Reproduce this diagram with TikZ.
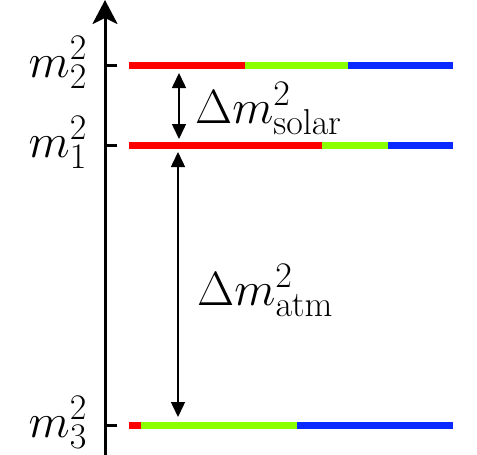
\documentclass[tikz,border=0pt]{standalone}
\usepackage{fix-cm}
\DeclareMathSizes{48}{48}{36}{26}
\usetikzlibrary{arrows.meta}
\definecolor{lred}{RGB}{255,0,0}
\definecolor{lgreen}{RGB}{140,255,0}
\definecolor{lblue}{RGB}{10,40,255}
\tikzset{
  level/.style={line width=7pt},
  tick/.style={line width=3pt},
  gap/.style={line width=1.5pt,{Triangle[width=14pt,length=15pt]}-{Triangle[width=14pt,length=15pt]}},
  lab/.style={inner sep=0pt,font=\fontsize{48}{56}\selectfont},
}
\begin{document}
\begin{tikzpicture}[x=1pt,y=-1pt]
\useasboundingbox (0,0) rectangle (477,455);
% axis
\coordinate (ax0) at (105,455);
\coordinate (ax1) at (105,0);
\draw[line width=3pt,-{Stealth[width=25pt,length=24pt,inset=6pt]}] (ax0) -- (ax1);
% levels
\coordinate (t2) at (105,65);  \coordinate (t2e) at (117,65);
\coordinate (t1) at (105,145); \coordinate (t1e) at (117,145);
\coordinate (t3) at (105,425); \coordinate (t3e) at (117,425);
\draw[tick] (t2) -- (t2e);
\draw[tick] (t1) -- (t1e);
\draw[tick] (t3) -- (t3e);
% m2 level
\coordinate (a2) at (129,65); \coordinate (b2) at (245,65); \coordinate (c2) at (348,65); \coordinate (d2) at (453,65);
\draw[level,lred] (a2) -- (b2);
\draw[level,lgreen] (b2) -- (c2);
\draw[level,lblue] (c2) -- (d2);
% m1 level
\coordinate (a1) at (129,145); \coordinate (b1) at (322,145); \coordinate (c1) at (388,145); \coordinate (d1) at (453,145);
\draw[level,lred] (a1) -- (b1);
\draw[level,lgreen] (b1) -- (c1);
\draw[level,lblue] (c1) -- (d1);
% m3 level
\coordinate (a3) at (129,425); \coordinate (b3) at (141,425); \coordinate (c3) at (297,425); \coordinate (d3) at (453,425);
\draw[level,lred] (a3) -- (b3);
\draw[level,lgreen] (b3) -- (c3);
\draw[level,lblue] (c3) -- (d3);
% labels
\node[lab,anchor=base east] (m2) at (87,77) {$m_2^2$};
\node[lab,anchor=base east] (m1) at (87,157) {$m_1^2$};
\node[lab,anchor=base east] (m3) at (87,437) {$m_3^2$};
% gaps
\coordinate (s1) at (179,73); \coordinate (s2) at (179,139);
\draw[gap] (s1) -- (s2);
\coordinate (q1) at (178,152); \coordinate (q2) at (178,417);
\draw[gap] (q1) -- (q2);
\node[lab,anchor=base west] (sol) at (195,123) {$\Delta m^2_{\mathrm{solar}}$};
\node[lab,anchor=base west] (atm) at (197,305) {$\Delta m^2_{\mathrm{atm}}$};
\end{tikzpicture}
\end{document}
